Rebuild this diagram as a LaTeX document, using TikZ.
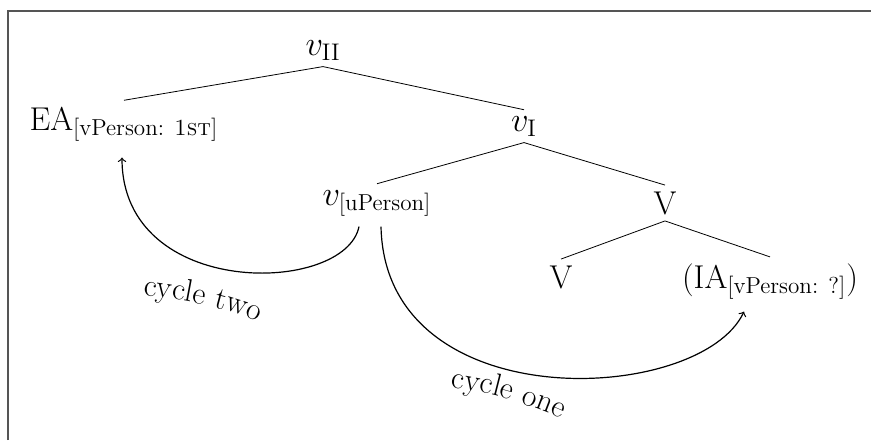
\documentclass[tikz,border=0pt]{standalone}
\usepackage{amsmath}
\usetikzlibrary{calc, decorations.text}
\definecolor{frameColor}{HTML}{555555}

\begin{document}
\begin{tikzpicture}[x=0.5pt, y=-0.5pt,
    word/.style={font=\fontsize{16.5}{20}\selectfont, inner sep=3pt, anchor=base},
    cyc/.style={->, semithick},
    cyclabel/.style={decorate, decoration={text along path, text align=center, text={|\fontsize{15.8}{19}\selectfont|#1}}}]
    \useasboundingbox (0,0) rectangle (871,440);
    \draw[frameColor, line width=0.8pt] (8,440) -- (8,11) -- (871,11);
    \node[word] (vII) at (323,55) {$v_{\mathrm{II}}$};
    \node[word] (EA) at (124,130) {EA$_{\text{[vPerson: \textsc{1st}]}}$};
    \node[word] (vI) at (524,131) {$v_{\mathrm{I}}$};
    \node[word] (vu) at (377,205) {$v_{\text{[uPerson]}}$};
    \node[word] (Vhi) at (665,214) {V};
    \node[word] (Vlo) at (561,288) {V};
    \node[word] (IA) at (770,288) {(IA$_{\text{[vPerson: ?]}}$)};
    \draw (EA.north) -- (vII.south) -- (vI.north);
    \draw (vu.north) -- (vI.south) -- (Vhi.north);
    \draw (Vlo.north) -- (Vhi.south) -- (IA.north);
    \draw[cyc] ([xshift=-9pt,yshift=-2pt]vu.south) .. controls (345,295) and (122,300) .. ([xshift=-1pt,yshift=-5pt]EA.south);
    \draw[cyc] ([xshift=2pt,yshift=-2pt]vu.south) .. controls (385,420) and (700,405) .. ([xshift=-13pt,yshift=-3pt]IA.south);
    \path[cyclabel={cycle two}] (130,294) .. controls (180,298) and (230,308) .. (270,327);
    \path[cyclabel={cycle one}] (441,386) .. controls (486,391) and (528,403) .. (570,423);
\end{tikzpicture}
\end{document}
